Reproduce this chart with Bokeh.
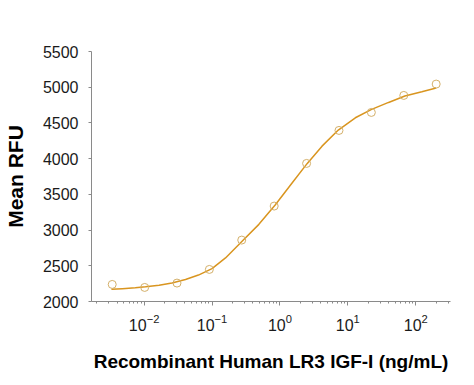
from bokeh.plotting import figure
from bokeh.models import FixedTicker, Range1d
from bokeh.embed import file_html
from bokeh.resources import INLINE

# Data
conc = [0.00339, 0.0102, 0.0305, 0.0914, 0.274, 0.823, 2.47, 7.41, 22.2, 66.7, 200]
rfu = [2239, 2197, 2258, 2449, 2860, 3336, 3933, 4395, 4647, 4885, 5044]

# Fitted curve
curve_conc = [0.0033, 0.00479, 0.00741, 0.0105, 0.0166, 0.0257, 0.0407, 0.0631, 0.1,
              0.158, 0.275, 0.490, 0.851, 1.51, 2.51, 4.17, 7.24, 12.9, 22.4, 39.8,
              69.2, 123, 200]
curve_rfu = [2170, 2180, 2192, 2205, 2228, 2260, 2308, 2370, 2460,
             2610, 2840, 3080, 3350, 3660, 3930, 4175, 4400, 4572, 4689, 4787,
             4876, 4936, 4990]

y_ticks = [2000, 2500, 3000, 3500, 4000, 4500, 5000, 5500]

FONT = "Liberation Sans"

p = figure(width=466, height=380, x_axis_type="log",
           x_range=Range1d(0.00168, 325), y_range=Range1d(2000, 5500),
           output_backend="svg", toolbar_location=None,
           min_border_left=90, min_border_top=51, min_border_right=16, min_border_bottom=79)

p.line(curve_conc, curve_rfu, line_color="#D9951F", line_width=1.5)
p.scatter(conc, rfu, marker="circle", size=8, fill_color=None,
          line_color="#D4B06A", line_width=1)

p.grid.visible = False
p.outline_line_color = None

for ax in (p.xaxis[0], p.yaxis[0]):
    ax.axis_line_color = "#8A8A8A"
    ax.major_tick_line_color = "#8A8A8A"
    ax.minor_tick_line_color = "#8A8A8A"
    ax.major_tick_in = 0
    ax.minor_tick_in = 0
    ax.major_label_text_font = FONT
    ax.major_label_text_font_size = "16px"
    ax.major_label_text_color = "#1a1a1a"
    ax.axis_label_text_font = FONT
    ax.axis_label_text_font_style = "bold"
    ax.axis_label_text_color = "#000000"

p.xaxis.axis_label = "Recombinant Human LR3 IGF-I (ng/mL)"
p.xaxis.axis_label_text_font_size = "19px"
p.xaxis.major_tick_out = 4
p.xaxis.minor_tick_out = 2
p.xaxis.major_label_standoff = 8
p.xaxis.axis_label_standoff = 17

p.yaxis.axis_label = "Mean RFU"
p.yaxis.axis_label_text_font_size = "21px"
p.yaxis.ticker = FixedTicker(ticks=y_ticks)
p.yaxis.minor_tick_out = 0
p.yaxis.major_tick_out = 3
p.yaxis.major_label_standoff = 10
p.yaxis.axis_label_standoff = 13

open("out.html", "w").write(file_html(p, INLINE))
